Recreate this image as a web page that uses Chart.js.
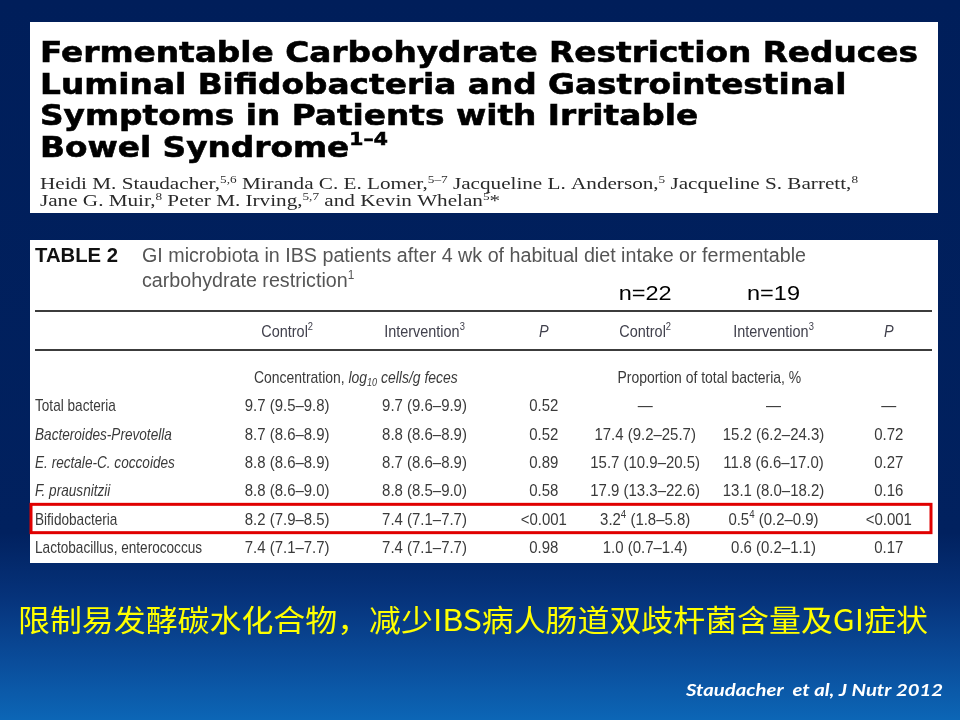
<!DOCTYPE html>
<html>
<head>
<meta charset="utf-8">
<script src="https://cdn.jsdelivr.net/npm/chart.js@4.4.1/dist/chart.umd.min.js"></script>
<style>
  html, body { margin: 0; padding: 0; background: #001e5a; }
  #slide { width: 960px; height: 720px; }
</style>
</head>
<body>
<div id="slide"><canvas id="tabela" width="960" height="720"></canvas></div>
<script>
// Linhas da tabela (bactérias)
const bacteria = ['Total bacteria', 'Bacteroides-Prevotella', 'E. rectale-C. coccoides', 'F. prausnitzii', 'Bifidobacteria', 'Lactobacillus, enterococcus'];
const bacteriaItalic = [false, true, true, true, false, false];

// Concentração, log10 cells/g feces -> [mediana, inferior, superior]
const concControl = [[9.7, 9.5, 9.8], [8.7, 8.6, 8.9], [8.8, 8.6, 8.9], [8.8, 8.6, 9.0], [8.2, 7.9, 8.5], [7.4, 7.1, 7.7]];
const concIntervention = [[9.7, 9.6, 9.9], [8.8, 8.6, 8.9], [8.7, 8.6, 8.9], [8.8, 8.5, 9.0], [7.4, 7.1, 7.7], [7.4, 7.1, 7.7]];
const concP = ['0.52', '0.52', '0.89', '0.58', '<0.001', '0.98'];

// Proporção do total de bactérias, %
const propControl = [null, [17.4, 9.2, 25.7], [15.7, 10.9, 20.5], [17.9, 13.3, 22.6], [3.2, 1.8, 5.8], [1.0, 0.7, 1.4]];
const propIntervention = [null, [15.2, 6.2, 24.3], [11.8, 6.6, 17.0], [13.1, 8.0, 18.2], [0.5, 0.2, 0.9], [0.6, 0.2, 1.1]];
const propP = [null, '0.72', '0.27', '0.16', '<0.001', '0.17'];
const propNote = [null, null, null, null, '4', null];

// Cabeçalhos
const columnKeys = ['concControl', 'concIntervention', 'concP', 'propControl', 'propIntervention', 'propP'];
const columnHeads = ['Control^{2}', 'Intervention^{3}', '~{P}', 'Control^{2}', 'Intervention^{3}', '~{P}'];
const groupSizes = ['n=22', 'n=19'];
const highlightRow = 'Bifidobacteria';

/**
 * Formata "mediana (inferior–superior)" com nota opcional em sobrescrito
 */
function fmt(t, note) {
    if (!t) return '—';
    const sup = note ? '^{' + note + '}' : '';
    return `${t[0].toFixed(1)}${sup} (${t[1].toFixed(1)}–${t[2].toFixed(1)})`;
}

const columnTexts = [
    concControl.map(t => fmt(t)),
    concIntervention.map(t => fmt(t)),
    concP,
    propControl.map((t, i) => fmt(t, propNote[i])),
    propIntervention.map((t, i) => fmt(t, propNote[i])),
    propP.map(v => v || '—')
];

/**
 * Quebra o texto em pedaços: ^{..} sobrescrito, _{..} subscrito, ~{..} itálico
 */
function parseRich(str) {
    return str.split(/(\^\{[^}]*\}|_\{[^}]*\}|~\{[^}]*\})/).filter(Boolean).map(p => {
        if (p.startsWith('^{')) return { t: p.slice(2, -1), sup: true };
        if (p.startsWith('_{')) return { t: p.slice(2, -1), sub: true, italic: true };
        if (p.startsWith('~{')) return { t: p.slice(2, -1), italic: true };
        return { t: p };
    });
}

/**
 * Desenha texto com sobrescritos, itálico e compressão horizontal
 */
function drawRich(ctx, str, x, y, o) {
    const segs = parseRich(str);
    const size = o.size;
    const fontFor = s => `${(o.italic || s.italic) ? 'italic ' : ''}${o.weight || 'normal'} ${(s.sup || s.sub) ? Math.round(size * 0.62) : size}px ${o.family}`;
    let w = 0;
    segs.forEach(s => { ctx.font = fontFor(s); s.w = ctx.measureText(s.t).width; w += s.w; });
    const scale = o.fit ? o.fit / w : (o.sx || 1);
    let x0 = x;
    if (o.align === 'center') x0 = x - w * scale / 2;
    else if (o.align === 'right') x0 = x - w * scale;
    ctx.save();
    ctx.translate(x0, y);
    ctx.scale(scale, 1);
    ctx.fillStyle = o.color;
    ctx.textBaseline = 'alphabetic';
    ctx.textAlign = 'left';
    let cx = 0;
    segs.forEach(s => {
        ctx.font = fontFor(s);
        const dy = s.sup ? -size * 0.4 : s.sub ? size * 0.2 : 0;
        if (o.stroke) {
            ctx.strokeStyle = o.color;
            ctx.lineWidth = o.stroke;
            ctx.strokeText(s.t, cx, dy);
        }
        ctx.fillText(s.t, cx, dy);
        cx += s.w;
    });
    ctx.restore();
    return scale;
}

const slidePlugin = {
    id: 'slide',
    beforeDraw(chart) {
        const ctx = chart.ctx;
        const g = ctx.createLinearGradient(0, 0, 0, chart.height);
        g.addColorStop(0, '#001e5a');
        g.addColorStop(0.74, '#01215f');
        g.addColorStop(0.83, '#06337b');
        g.addColorStop(0.92, '#0a4d9b');
        g.addColorStop(1, '#0c66b6');
        ctx.save();
        ctx.fillStyle = g;
        ctx.fillRect(0, 0, chart.width, chart.height);
        ctx.fillStyle = '#ffffff';
        ctx.fillRect(30, 22, 908, 191);
        ctx.fillRect(30, 240, 908, 323);
        ctx.restore();
    },
    afterDatasetsDraw(chart, args, opts) {
        const ctx = chart.ctx;
        // valores de cada célula, na posição do ponto calculada pelas escalas
        chart.data.datasets.forEach((ds, c) => {
            const meta = chart.getDatasetMeta(c);
            meta.data.forEach((el, r) => {
                drawRich(ctx, ds.texts[r], el.x + opts.colShift[c], el.y + 6, {
                    size: 17, family: '"Liberation Sans", Arial, sans-serif', color: '#3a3a3a', align: 'center', sx: 0.88
                });
            });
        });
        // nomes das linhas
        const y = chart.scales.y;
        bacteria.forEach((b, r) => {
            drawRich(ctx, b, 35, y.getPixelForValue(r) + 6, {
                size: 17, family: '"Liberation Sans", Arial, sans-serif', color: '#3a3a3a',
                italic: bacteriaItalic[r], sx: 0.8
            });
        });
    },
    afterDraw(chart, args, opts) {
        const ctx = chart.ctx;
        const x = chart.scales.x;
        const y = chart.scales.y;
        const colX = c => x.getPixelForValue(c) + opts.colShift[c];

        // título do artigo
        const titleFont = { size: 29, family: '"DejaVu Sans", sans-serif', weight: 'bold', color: '#000000', stroke: 0.6 };
        const sx = drawRich(ctx, 'Fermentable Carbohydrate Restriction Reduces', 40, 62, Object.assign({ fit: 878 }, titleFont));
        drawRich(ctx, 'Luminal Bifidobacteria and Gastrointestinal', 40, 94, Object.assign({ sx }, titleFont));
        drawRich(ctx, 'Symptoms in Patients with Irritable', 40, 125, Object.assign({ sx }, titleFont));
        drawRich(ctx, 'Bowel Syndrome^{1–4}', 40, 157, Object.assign({ sx }, titleFont));

        // autores
        const authFont = { size: 16, family: '"Liberation Serif", "Times New Roman", serif', color: '#2a2a2a' };
        const asx = drawRich(ctx, 'Heidi M. Staudacher,^{5,6} Miranda C. E. Lomer,^{5–7} Jacqueline L. Anderson,^{5} Jacqueline S. Barrett,^{8}', 40, 189, Object.assign({ fit: 818 }, authFont));
        drawRich(ctx, 'Jane G. Muir,^{8} Peter M. Irving,^{5,7} and Kevin Whelan^{5}*', 40, 206, Object.assign({ sx: asx }, authFont));

        // legenda da tabela
        const sans = '"Liberation Sans", Arial, sans-serif';
        drawRich(ctx, 'TABLE 2', 35, 262, { size: 20, family: sans, weight: 'bold', color: '#111111', fit: 83 });
        const csx = drawRich(ctx, 'GI microbiota in IBS patients after 4 wk of habitual diet intake or fermentable', 142, 262, { size: 20, family: sans, color: '#555555', fit: 664 });
        drawRich(ctx, 'carbohydrate restriction^{1}', 142, 287, { size: 20, family: sans, color: '#555555', sx: csx });

        // tamanho dos grupos
        groupSizes.forEach((n, i) => {
            drawRich(ctx, n, colX(3 + i), 300, { size: 21, family: sans, color: '#000000', align: 'center', fit: 53 });
        });

        // linhas horizontais da tabela
        ctx.save();
        ctx.strokeStyle = '#3c3c3c';
        ctx.lineWidth = 2;
        [311, 350].forEach(ly => {
            ctx.beginPath();
            ctx.moveTo(35, ly);
            ctx.lineTo(932, ly);
            ctx.stroke();
        });
        ctx.restore();

        // cabeçalhos das colunas
        columnHeads.forEach((h, c) => {
            drawRich(ctx, h, colX(c), 337, { size: 17, family: sans, color: '#40404c', align: 'center', sx: 0.85 });
        });
        drawRich(ctx, 'Concentration, ~{log}_{10}~{ cells/g feces}', (colX(0) + colX(1)) / 2, 383,
            { size: 17, family: sans, color: '#3a3a3a', align: 'center', sx: 0.82 });
        drawRich(ctx, 'Proportion of total bacteria, %', (colX(3) + colX(4)) / 2, 383,
            { size: 17, family: sans, color: '#3a3a3a', align: 'center', sx: 0.82 });

        // destaque em vermelho da linha Bifidobacteria
        const r = bacteria.indexOf(highlightRow);
        const half = (y.getPixelForValue(1) - y.getPixelForValue(0)) / 2;
        ctx.save();
        ctx.strokeStyle = '#e00000';
        ctx.lineWidth = 3;
        ctx.strokeRect(31, y.getPixelForValue(r) - half, 900, half * 2);
        ctx.restore();

        // conclusão em chinês
        drawRich(ctx, '限制易发酵碳水化合物，减少IBS病人肠道双歧杆菌含量及GI症状', 18, 631,
            { size: 30, family: '"Noto Sans CJK SC", sans-serif', color: '#ffff00', fit: 910 });

        // referência
        drawRich(ctx, 'Staudacher  et al, J Nutr 2012', 943, 696,
            { size: 17, family: 'Lato, "Open Sans", sans-serif', weight: 'bold', italic: true, color: '#ffffff', align: 'right', fit: 257 });
    }
};

document.addEventListener('DOMContentLoaded', function() {
    const ctx = document.getElementById('tabela').getContext('2d');

    new Chart(ctx, {
        type: 'line',
        data: {
            datasets: columnTexts.map((texts, c) => ({
                label: columnKeys[c],
                texts: texts,
                data: bacteria.map(b => ({ x: columnKeys[c], y: b })),
                showLine: false,
                pointRadius: 0,
                pointHoverRadius: 0
            }))
        },
        options: {
            responsive: false,
            animation: false,
            devicePixelRatio: 1,
            events: [],
            layout: {
                padding: { left: 227, right: 11, top: 391, bottom: 159 }
            },
            scales: {
                x: { type: 'category', labels: columnKeys, offset: true, display: false },
                y: { type: 'category', labels: bacteria, offset: true, display: false }
            },
            plugins: {
                legend: { display: false },
                tooltip: { enabled: false },
                slide: { colShift: [0, 17, 16, -3, 5, 0] }
            }
        },
        plugins: [slidePlugin]
    });
});
</script>
</body>
</html>
